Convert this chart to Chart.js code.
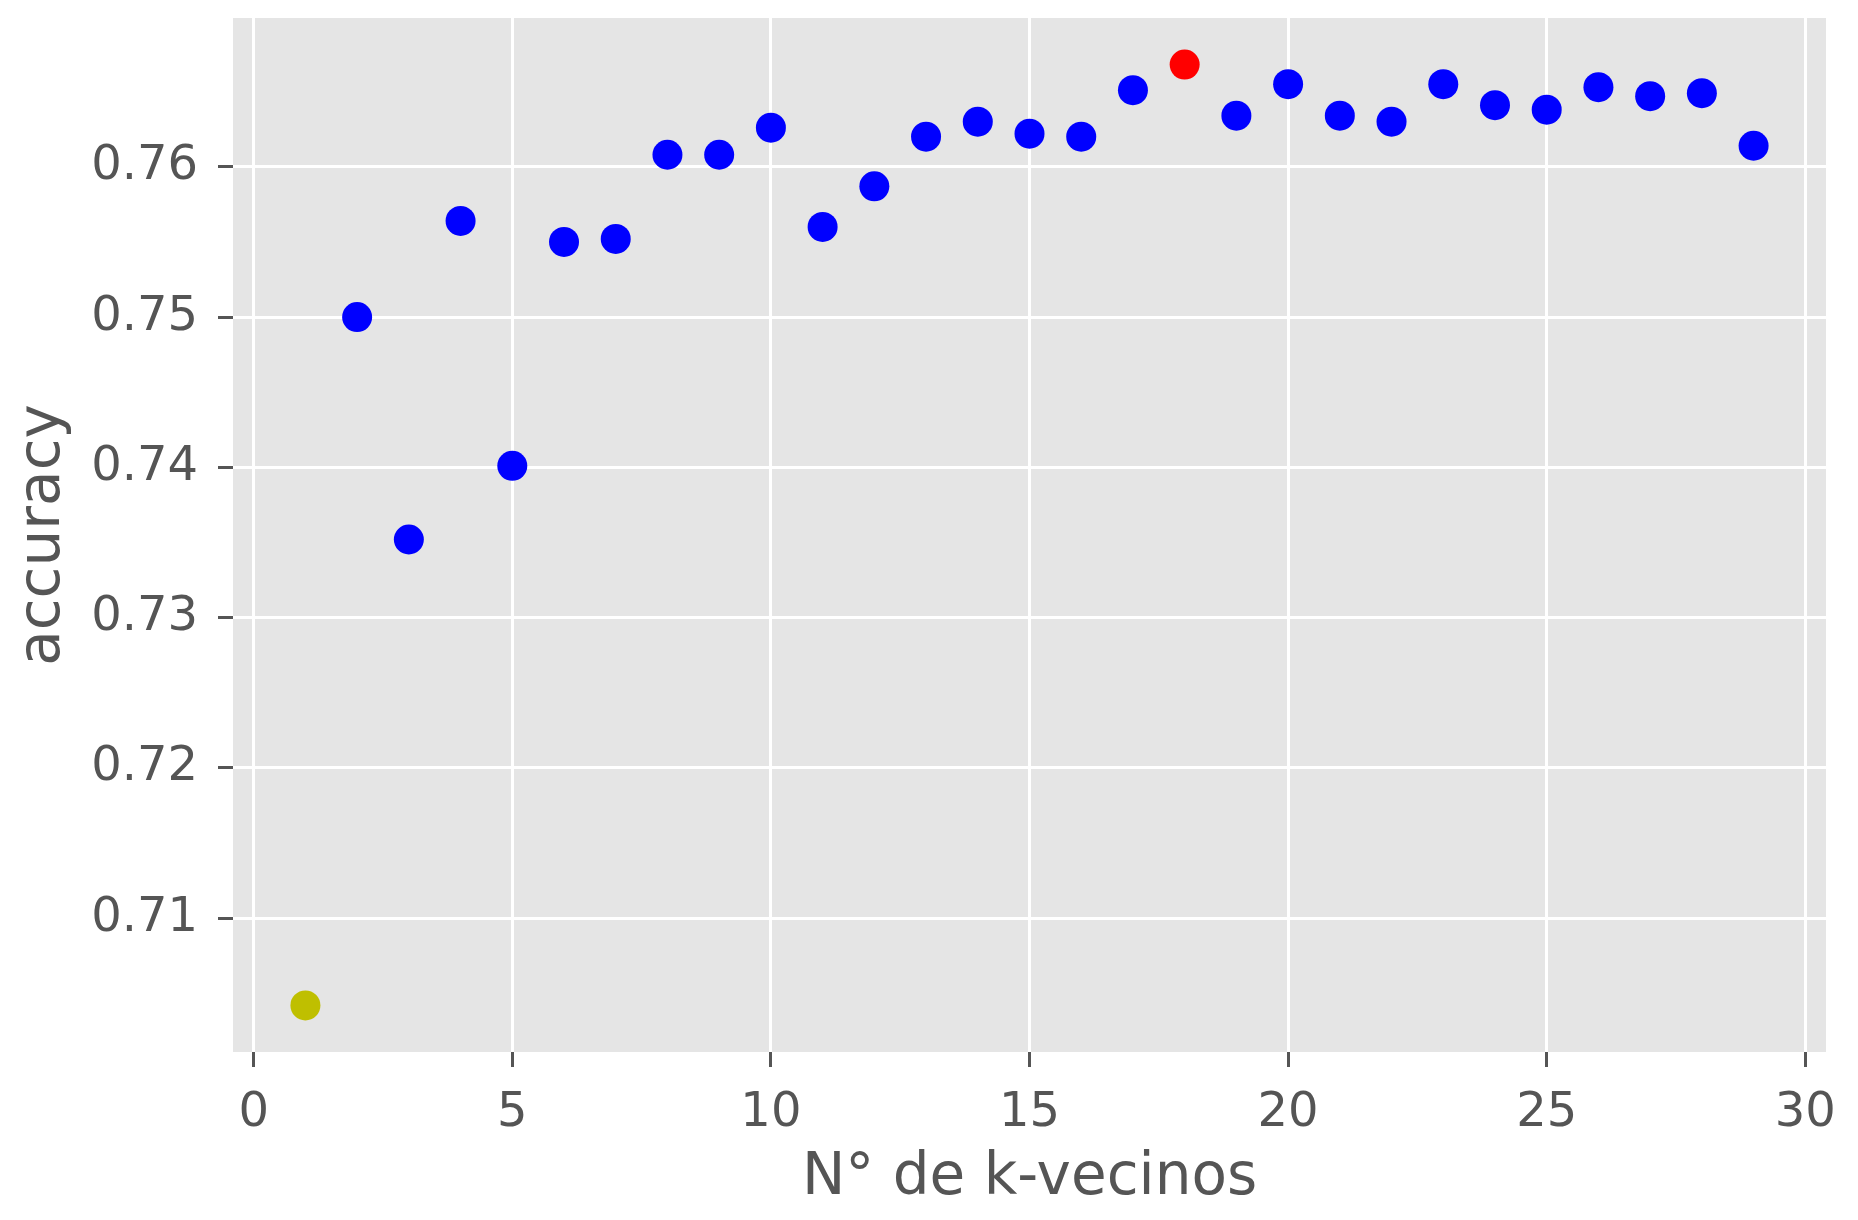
<!DOCTYPE html>
<html>
<head>
<meta charset="utf-8">
<script src="https://cdn.jsdelivr.net/npm/chart.js@4/dist/chart.umd.min.js"></script>
<style>
  html, body { margin: 0; padding: 0; background: #ffffff; }
  canvas { display: block; }
</style>
</head>
<body>
<canvas id="myChart" width="1858" height="1220"></canvas>
<script>
// k values and the accuracy
const kVecinos = [1, 2, 3, 4, 5, 6, 7, 8, 9, 10, 11, 12, 13, 14, 15, 16, 17, 18, 19, 20, 21, 22, 23, 24, 25, 26, 27, 28, 29]
const accuracy = [0.7042, 0.7500, 0.7352, 0.7564, 0.7401, 0.7550, 0.7552, 0.7608, 0.7608, 0.7626,
                  0.7560, 0.7587, 0.7620, 0.7630, 0.7622, 0.7620, 0.7651, 0.7668, 0.7634, 0.7655,
                  0.7634, 0.7630, 0.7655, 0.7641, 0.7638, 0.7653, 0.7647, 0.7649, 0.7614]

const xTicks = [0, 5, 10, 15, 20, 25, 30]
const yTicks = [0.71, 0.72, 0.73, 0.74, 0.75, 0.76]

const xLabel = 'N° de k-vecinos'
const yLabel = 'accuracy'

const best = Math.max(...accuracy)
const worst = Math.min(...accuracy)

const textColor = '#555555'
const fontName = 'DejaVu Sans'

// grey panel behind the grid
const panelBg = {
    id: 'panelBg',
    beforeDraw(chart){
        const {ctx, chartArea} = chart
        ctx.save()
        ctx.fillStyle = '#e5e5e5'
        ctx.fillRect(chartArea.left, chartArea.top, chartArea.right - chartArea.left, chartArea.bottom - chartArea.top)
        ctx.restore()
    }
}

function pointColor(c){
    const v = c.raw ? c.raw.y : null
    if (v === best) return '#ff0000'
    if (v === worst) return '#bfbf00'
    return '#0000ff'
}

new Chart(document.getElementById('myChart').getContext('2d'), {
    type: 'scatter',
    data: {
        datasets: [{
            data: kVecinos.map((k, i) => ({x: k, y: accuracy[i]})),
            backgroundColor: pointColor,
            borderWidth: 0,
            pointRadius: 15,
            pointHoverRadius: 15
        }]
    },
    options: {
        responsive: false,
        devicePixelRatio: 1,
        animation: false,
        layout: { padding: { top: 18, right: 32, left: 0, bottom: 0 } },
        plugins: {
            legend: { display: false },
            tooltip: { enabled: false }
        },
        scales: {
            x: {
                type: 'linear',
                min: -0.4,
                max: 30.4,
                afterBuildTicks: s => { s.ticks = xTicks.map(v => ({value: v})) },
                afterFit: s => {
                    s.height = 168
                    s.paddingLeft = 0
                    s.paddingRight = 0
                },
                grid: {
                    color: '#ffffff',
                    lineWidth: 3,
                    drawTicks: true,
                    tickLength: 15,
                    tickColor: textColor,
                    tickWidth: 3
                },
                border: { display: false },
                ticks: {
                    color: textColor,
                    font: { family: fontName, size: 48 },
                    padding: 18,
                    maxRotation: 0,
                    callback: v => String(v)
                },
                title: {
                    display: true,
                    text: xLabel,
                    color: textColor,
                    font: { family: fontName, size: 58 },
                    padding: { top: 0, bottom: 6 }
                }
            },
            y: {
                type: 'linear',
                min: 0.7011,
                max: 0.7699,
                afterBuildTicks: s => { s.ticks = yTicks.map(v => ({value: v})) },
                afterFit: s => {
                    s.width = 233
                    s.paddingTop = 0
                    s.paddingBottom = 0
                },
                grid: {
                    color: '#ffffff',
                    lineWidth: 3,
                    drawTicks: true,
                    tickLength: 15,
                    tickColor: textColor,
                    tickWidth: 3
                },
                border: { display: false },
                ticks: {
                    color: textColor,
                    font: { family: fontName, size: 48 },
                    padding: 20,
                    callback: v => v.toFixed(2)
                },
                title: {
                    display: true,
                    text: yLabel,
                    color: textColor,
                    font: { family: fontName, size: 58 },
                    padding: { top: 9, bottom: 0 }
                }
            }
        }
    },
    plugins: [panelBg]
})
</script>
</body>
</html>
